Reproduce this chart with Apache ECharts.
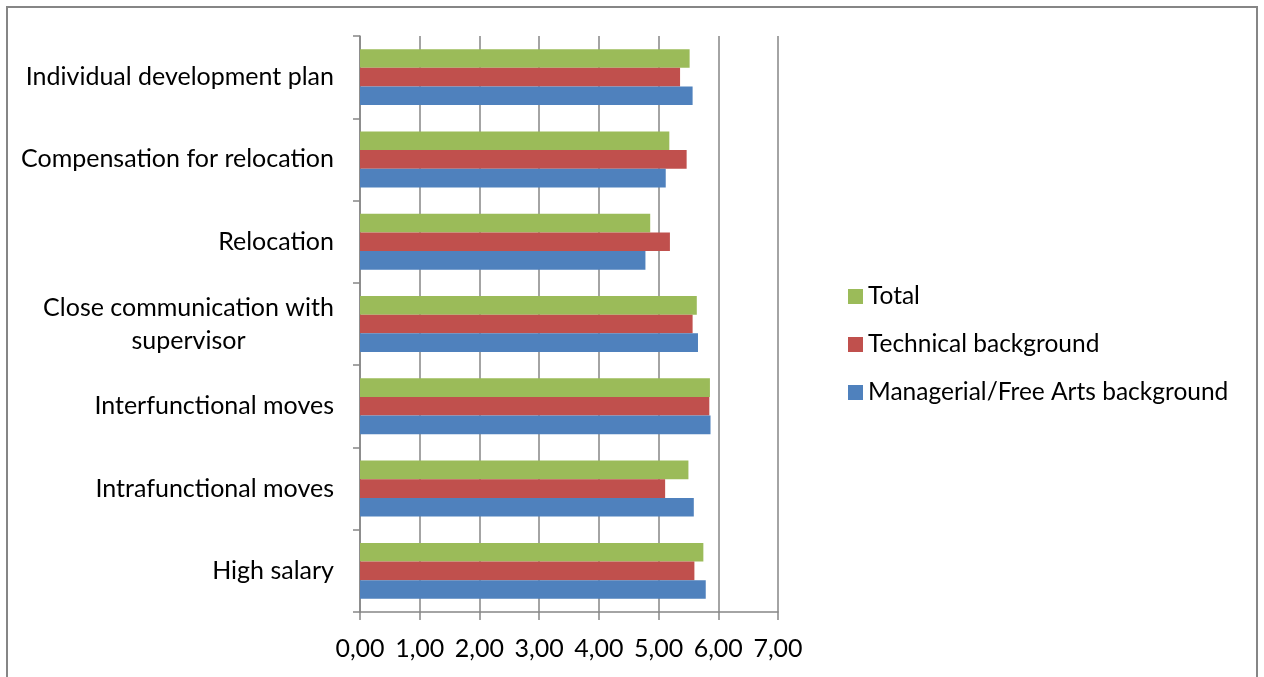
<!DOCTYPE html>
<html>
<head>
<meta charset="utf-8">
<script src="https://cdn.jsdelivr.net/npm/echarts@6/dist/echarts.min.js"></script>
<style>
  html, body { margin: 0; padding: 0; background: #fff; }
  #chart { width: 1264px; height: 677px; }
</style>
</head>
<body>
<div id="chart"></div>
<script>
// Categories listed bottom to top (category axis runs upward)
const categories = [
  'High salary',
  'Intrafunctional moves',
  'Interfunctional moves',
  'Close communication with\nsupervisor',
  'Relocation',
  'Compensation for relocation',
  'Individual development plan'
];
const managerial = [5.79, 5.59, 5.87, 5.66, 4.78, 5.12, 5.57];
const technical  = [5.60, 5.11, 5.85, 5.57, 5.19, 5.47, 5.36];
const total      = [5.75, 5.50, 5.86, 5.64, 4.86, 5.18, 5.52];
const xTicks = [0, 1, 2, 3, 4, 5, 6, 7];

const FONT = 'Lato';
const FS = 25;
const GRAY = '#868686';

// width of the longest line, used to centre wrapped labels in their own box
function textWidth(s) {
  const c = document.createElement('canvas').getContext('2d');
  c.font = FS + 'px ' + FONT;
  return c.measureText(s).width;
}

const chart = echarts.init(document.getElementById('chart'));
chart.setOption({
  animation: false,
  textStyle: { fontFamily: FONT },
  graphic: [{
    type: 'rect',
    shape: { x: 7, y: 7, width: 1250, height: 700 },
    style: { fill: 'none', stroke: GRAY, lineWidth: 2 },
    silent: true
  }],
  grid: { left: 360, right: 486, top: 36, bottom: 65 },
  legend: {
    orient: 'vertical',
    left: 843,
    top: 279,
    itemWidth: 15,
    itemHeight: 15,
    itemGap: 23,
    icon: 'rect',
    data: ['Total', 'Technical background', 'Managerial/Free Arts background'],
    textStyle: { fontFamily: FONT, fontSize: 24.5, lineHeight: 25, color: '#000' }
  },
  xAxis: {
    type: 'value',
    min: xTicks[0],
    max: xTicks[xTicks.length - 1],
    interval: 1,
    axisLine: { show: true, lineStyle: { color: GRAY, width: 1.5 } },
    axisTick: { show: true, length: 8, lineStyle: { color: GRAY, width: 1.5 } },
    splitLine: { show: true, lineStyle: { color: GRAY, width: 1.5 } },
    axisLabel: {
      fontFamily: FONT, fontSize: FS, color: '#000', margin: 24,
      formatter: v => v.toFixed(2).replace('.', ',')
    }
  },
  yAxis: {
    type: 'category',
    data: categories,
    axisLine: { show: true, lineStyle: { color: GRAY, width: 1.5 } },
    axisTick: { show: true, length: 7, lineStyle: { color: GRAY, width: 1.5 } },
    axisLabel: {
      fontFamily: FONT, fontSize: FS, color: '#000', margin: 26,
      formatter: v => {
        if (v.indexOf('\n') < 0) return v;
        return v.split('\n').map(l => '{c|' + l + '}').join('\n');
      },
      rich: {
        c: {
          fontFamily: FONT, fontSize: FS, color: '#000', lineHeight: 33,
          align: 'center',
          width: Math.ceil(textWidth('Close communication with'))
        }
      }
    }
  },
  // in a horizontal group the first series sits on top
  series: [
    { name: 'Total', type: 'bar', data: total,
      itemStyle: { color: '#9BBB59' }, barGap: '0%', barCategoryGap: '32%' },
    { name: 'Technical background', type: 'bar', data: technical,
      itemStyle: { color: '#C0504D' }, barGap: '0%', barCategoryGap: '32%' },
    { name: 'Managerial/Free Arts background', type: 'bar', data: managerial,
      itemStyle: { color: '#4F81BD' }, barGap: '0%', barCategoryGap: '32%' }
  ]
});
</script>
</body>
</html>
